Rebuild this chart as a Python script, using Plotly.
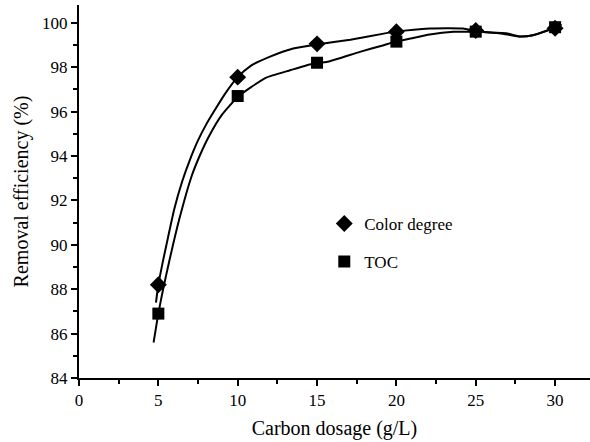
import plotly.graph_objects as go

# Measured points
dosage = [5, 10, 15, 20, 25, 30]
color_degree = [88.2, 97.55, 99.05, 99.6, 99.65, 99.75]
toc = [86.9, 96.7, 98.2, 99.15, 99.6, 99.8]

# Fitted curves
color_curve_x = [4.85, 5.0, 5.3, 5.6, 6.0, 6.5, 7.0, 7.5, 8.0, 8.5, 9.2, 10.0, 10.8, 12.0, 13.5, 15.0,
                 17.1, 19.2, 19.9, 22.1, 24.2, 25.0, 25.9, 26.9, 27.8, 28.6, 29.9, 30.4]
color_curve_y = [87.4, 88.2, 89.3, 90.3, 91.6, 92.85, 93.85, 94.7, 95.4, 96.0, 96.8, 97.55, 98.05, 98.46, 98.84, 99.02,
                 99.24, 99.51, 99.59, 99.74, 99.74, 99.63, 99.56, 99.53, 99.38, 99.44, 99.74, 99.93]
toc_curve_x = [4.7, 5.0, 5.3, 5.7, 6.3, 7.1, 7.6, 8.2, 9.0, 10.0, 10.8, 11.8, 13.3, 14.9, 15.6,
               17.7, 19.2, 19.9, 20.9, 22.1, 23.6, 25.0, 26.7, 27.8, 28.6, 29.9, 30.4]
toc_curve_y = [85.6, 86.9, 88.0, 89.3, 91.1, 93.1, 94.0, 94.9, 95.85, 96.66, 97.08, 97.53, 97.86, 98.19, 98.23,
               98.69, 98.99, 99.14, 99.29, 99.47, 99.59, 99.59, 99.51, 99.38, 99.44, 99.77, 99.93]

x_ticks = [0, 5, 10, 15, 20, 25, 30]
y_ticks = [84, 86, 88, 90, 92, 94, 96, 98, 100]

FONT = "Liberation Serif"

fig = go.Figure()
fig.add_trace(go.Scatter(x=color_curve_x, y=color_curve_y, mode="lines",
                         line=dict(color="black", width=2, shape="spline", smoothing=0.5),
                         showlegend=False, hoverinfo="skip"))
fig.add_trace(go.Scatter(x=toc_curve_x, y=toc_curve_y, mode="lines",
                         line=dict(color="black", width=2, shape="spline", smoothing=0.5),
                         showlegend=False, hoverinfo="skip"))
fig.add_trace(go.Scatter(x=dosage, y=color_degree, mode="markers", name="Color degree",
                         marker=dict(symbol="diamond", size=13, color="black"), legend="legend"))
fig.add_trace(go.Scatter(x=dosage, y=toc, mode="markers", name="TOC",
                         marker=dict(symbol="square", size=12, color="black"), legend="legend2"))

axis_common = dict(showline=True, linecolor="black", linewidth=2, ticks="outside", ticklen=6,
                   tickwidth=1.5, tickcolor="black", showgrid=False, zeroline=False,
                   tickfont=dict(family=FONT, size=17, color="black"), mirror=False)

fig.update_xaxes(range=[0, 32.2], tickvals=x_ticks, ticktext=[str(v) for v in x_ticks],
                 minor=dict(dtick=2.5, tick0=0, ticks="outside", ticklen=4, tickwidth=1.5, tickcolor="black"),
                 title=dict(text="Carbon dosage (g/L)", font=dict(family=FONT, size=20, color="black"), standoff=12),
                 **axis_common)
fig.update_yaxes(range=[84, 100.8], tickvals=y_ticks, ticktext=[str(v) for v in y_ticks],
                 minor=dict(dtick=1, tick0=84, ticks="outside", ticklen=4, tickwidth=1.5, tickcolor="black"),
                 title=dict(text="Removal efficiency (%)", font=dict(family=FONT, size=20, color="black"), standoff=8),
                 **axis_common)

legend_common = dict(font=dict(family=FONT, size=17, color="black"), bgcolor="rgba(0,0,0,0)",
                     xanchor="left", yanchor="middle", itemwidth=30)
fig.update_layout(
    width=590, height=442,
    margin=dict(l=79, r=0, t=5, b=64),
    plot_bgcolor="white", paper_bgcolor="white",
    legend=dict(x=0.48, y=0.413, **legend_common),
    legend2=dict(x=0.48, y=0.311, **legend_common),
)

fig.write_html("out.html")
